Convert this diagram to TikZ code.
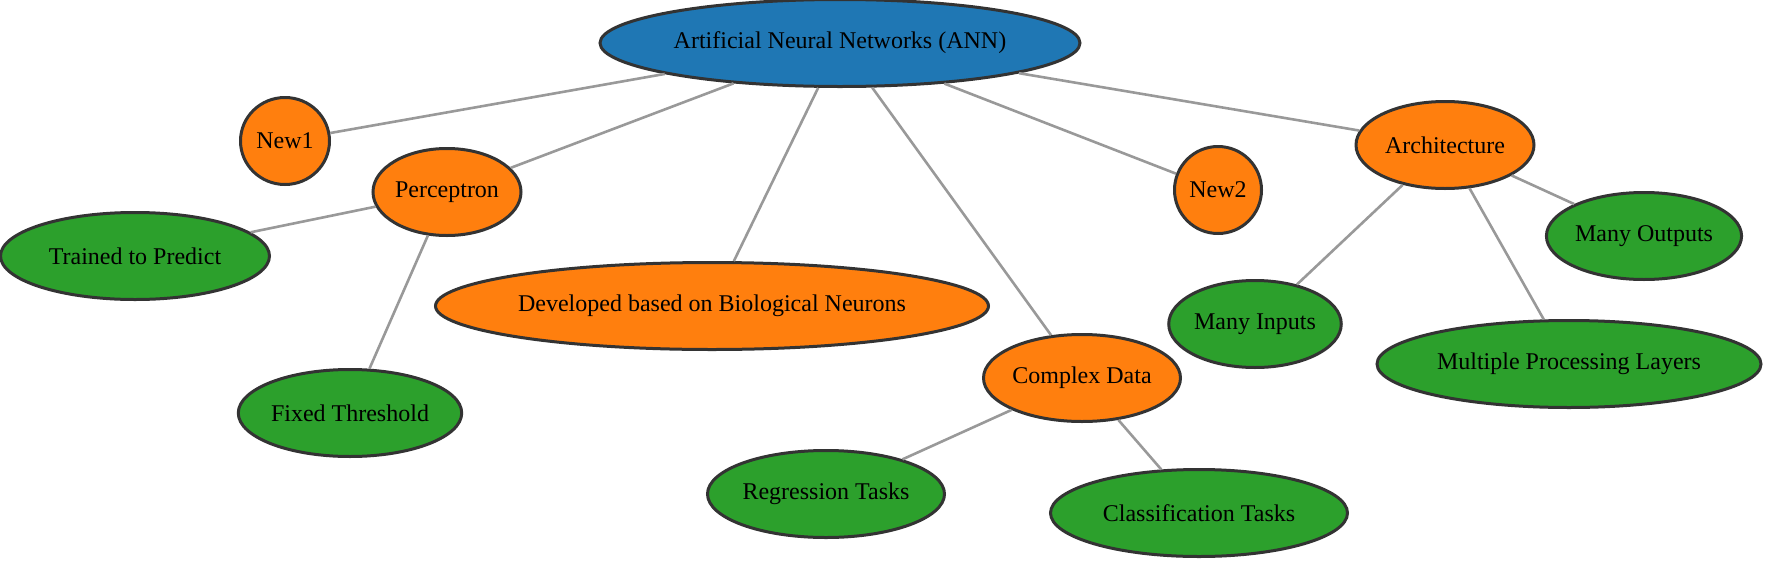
\documentclass[tikz,border=0pt]{standalone}
\usepackage{fontspec}
\setmainfont{Liberation Serif}
\usetikzlibrary{shapes.geometric}

\definecolor{annblue}{HTML}{1F77B4}
\definecolor{annorange}{HTML}{FF7F0E}
\definecolor{anngreen}{HTML}{2CA02C}
\definecolor{annedge}{HTML}{999999}
\definecolor{annborder}{HTML}{333333}

\begin{document}
\begin{tikzpicture}[x=1pt, y=-1pt,
    topic/.style={ellipse, draw=annborder, line width=3pt, inner sep=0pt,
        minimum height=87pt, font=\fontsize{24}{28}\selectfont},
    link/.style={draw=annedge, line width=2.6pt}]
    \useasboundingbox (0,0) rectangle (1765,560);

    \node[topic, fill=annblue, minimum width=480pt] (ann) at (840, 43) {Artificial Neural Networks (ANN)};

    \node[topic, fill=annorange, minimum width=89pt] (new1) at (285, 141) {New1};
    \node[topic, fill=annorange, minimum width=148pt] (perc) at (447, 192) {Perceptron};
    \node[topic, fill=annorange, minimum width=553pt] (bio) at (712, 306) {Developed based on Biological Neurons};
    \node[topic, fill=annorange, minimum width=174pt] (cplx) at (1082, 378) {Complex Data};
    \node[topic, fill=annorange, minimum width=87pt] (new2) at (1218, 190) {New2};
    \node[topic, fill=annorange, minimum width=178pt] (arch) at (1445, 145) {Architecture};

    \node[topic, fill=anngreen, minimum width=269pt] (train) at (135, 256) {Trained to Predict};
    \node[topic, fill=anngreen, minimum width=223pt] (thresh) at (350, 413) {Fixed Threshold};
    \node[topic, fill=anngreen, minimum width=237pt] (regr) at (826, 494) {Regression Tasks};
    \node[topic, fill=anngreen, minimum width=297pt] (clas) at (1199, 513) {Classification Tasks};
    \node[topic, fill=anngreen, minimum width=160pt] (inputs) at (1255, 324) {Many Inputs};
    \node[topic, fill=anngreen, minimum width=384pt] (layers) at (1569, 364) {Multiple Processing Layers};
    \node[topic, fill=anngreen, minimum width=170pt] (outputs) at (1644, 236) {Many Outputs};

    \path[link] (ann) -- (new1);
    \path[link] (ann) -- (perc);
    \path[link] (ann) -- (bio);
    \path[link] (ann) -- (cplx);
    \path[link] (ann) -- (new2);
    \path[link] (ann) -- (arch);
    \path[link] (perc) -- (train);
    \path[link] (perc) -- (thresh);
    \path[link] (cplx) -- (regr);
    \path[link] (cplx) -- (clas);
    \path[link] (arch) -- (inputs);
    \path[link] (arch) -- (layers);
    \path[link] (arch) -- (outputs);
\end{tikzpicture}
\end{document}
